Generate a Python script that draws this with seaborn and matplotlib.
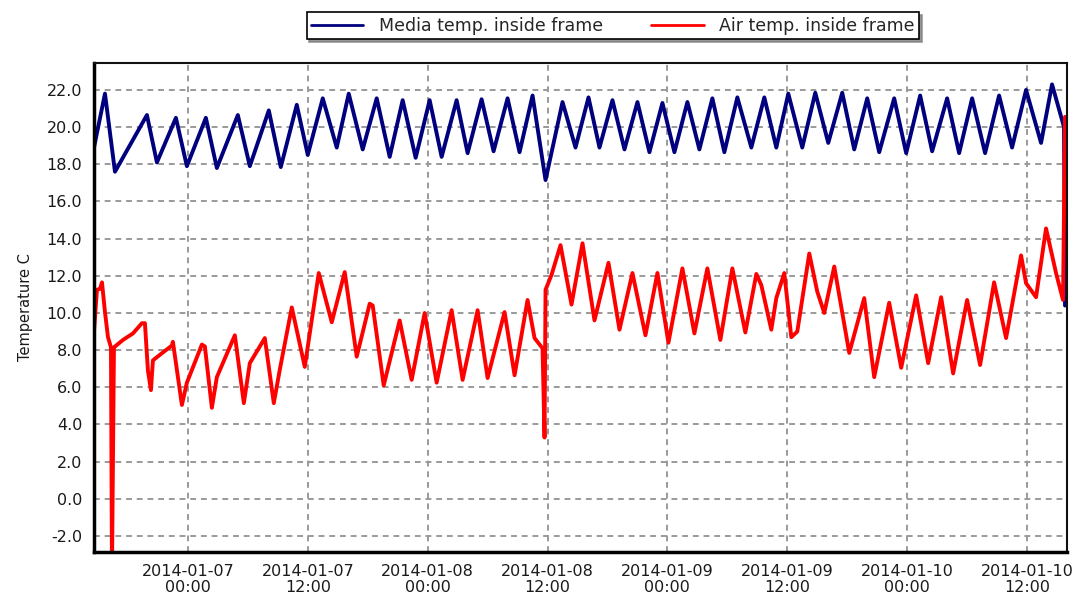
import matplotlib
matplotlib.use("Agg")
import matplotlib.pyplot as plt
import matplotlib.dates as mdates
from matplotlib.ticker import MultipleLocator, FormatStrFormatter
import numpy as np
import pandas as pd
import seaborn as sns

# Logger readings: hours after 2014-01-06 00:00 and temperature in deg C
media_hours = [14.6, 15.7, 16.7, 19.9, 20.9, 22.8, 23.9, 25.8, 26.9, 29.0, 30.2, 32.1,
               33.3, 34.9, 36.0, 37.5, 38.9, 40.1, 41.5, 42.9, 44.2, 45.5, 46.8, 48.2,
               49.4, 50.9, 52.0, 53.4, 54.6, 56.0, 57.2, 58.5, 59.8, 61.5, 62.8, 64.1,
               65.2, 66.5, 67.7, 69.0, 70.2, 71.5, 72.7, 74.0, 75.2, 76.5, 77.7, 79.0,
               80.4, 81.7, 82.9, 84.1, 85.5, 86.8, 88.1, 89.5, 90.7, 92.0, 93.2, 94.7,
               95.9, 97.3, 98.5, 100.0, 101.2, 102.5, 103.8, 105.2, 106.5, 107.9, 109.4,
               110.5, 111.7, 111.8]
media_temp = [18.9, 21.8, 17.6, 20.65, 18.1, 20.5, 17.9, 20.5, 17.8, 20.65, 17.9, 20.9,
              17.85, 21.2, 18.5, 21.55, 18.9, 21.8, 18.8, 21.55, 18.4, 21.45, 18.35, 21.45,
              18.4, 21.45, 18.6, 21.5, 18.7, 21.55, 18.65, 21.7, 17.15, 21.35, 18.9, 21.6,
              18.9, 21.45, 18.8, 21.35, 18.65, 21.3, 18.65, 21.35, 18.8, 21.55, 18.65, 21.6,
              18.9, 21.6, 18.9, 21.8, 18.9, 21.85, 19.15, 21.85, 18.8, 21.55, 18.65, 21.55,
              18.6, 21.7, 18.7, 21.55, 18.6, 21.55, 18.6, 21.7, 18.9, 22.0, 19.15,
              22.3, 20.0, 10.4]

air_hours = [14.6, 14.9, 15.2, 15.4, 15.7, 16.0, 16.3, 16.4, 16.6, 17.5, 18.5, 19.4,
             19.7, 20.0, 20.3, 20.5, 21.2, 22.4, 22.5, 23.4, 23.9, 25.4, 25.7, 26.4,
             26.9, 28.7, 29.6, 30.2, 31.7, 32.6, 33.2, 34.4, 35.7, 37.1, 38.4, 39.7,
             40.9, 42.2, 42.5, 43.6, 45.2, 46.4, 47.7, 48.9, 50.4, 51.5, 53.0, 54.0,
             55.7, 56.7, 58.0, 58.7, 59.5, 59.7, 59.8, 60.4, 61.3, 62.4, 63.5, 64.7,
             66.1, 67.2, 68.5, 69.8, 71.0, 72.1, 73.5, 74.7, 76.0, 77.3, 78.5, 79.8,
             80.9, 81.4, 82.4, 82.9, 83.7, 84.4, 85.0, 86.2, 87.0, 87.7, 88.7, 90.2,
             91.7, 92.7, 94.2, 95.4, 96.9, 98.1, 99.4, 100.6, 102.0, 103.3, 104.7, 105.9,
             107.4, 107.9, 108.9, 109.9, 110.9, 111.6, 111.8]
air_temp = [9.0, 11.25, 11.3, 11.65, 10.05, 8.7, 8.15, -4.0, 8.15, 8.55, 8.9, 9.45,
            9.45, 6.9, 5.85, 7.45, 7.75, 8.25, 8.45, 5.05, 6.25, 8.3, 8.2, 4.9,
            6.55, 8.8, 5.15, 7.3, 8.65, 5.15, 6.95, 10.3, 7.1, 12.15, 9.5, 12.2,
            7.65, 10.5, 10.4, 6.1, 9.6, 6.4, 10.0, 6.25, 10.15, 6.4, 10.15, 6.5,
            10.05, 6.65, 10.7, 8.65, 8.1, 3.3, 11.25, 12.05, 13.65, 10.45, 13.75, 9.6,
            12.7, 9.1, 12.15, 8.8, 12.15, 8.4, 12.4, 8.9, 12.4, 8.55, 12.4, 8.95,
            12.1, 11.5, 9.1, 10.8, 12.15, 8.7, 9.0, 13.2, 11.15, 10.0, 12.5, 7.85,
            10.8, 6.55, 10.55, 7.05, 10.95, 7.3, 10.85, 6.75, 10.7, 7.2, 11.65, 8.65,
            13.1, 11.6, 10.85, 14.55, 12.15, 10.7, 20.55]

series_names = ["Media temp. inside frame", "Air temp. inside frame"]
series_colors = ["#00007f", "#ff0000"]

origin = pd.Timestamp("2014-01-06 00:00")
media = pd.DataFrame({"time": origin + pd.to_timedelta(media_hours, unit="h"),
                      "temp": media_temp})
air = pd.DataFrame({"time": origin + pd.to_timedelta(air_hours, unit="h"),
                    "temp": air_temp})

sns.set_style("white")
plt.rcParams["font.family"] = ["DejaVu Sans"]

fig = plt.figure(figsize=(10.79, 6.0), dpi=100)
ax = fig.add_axes([0.0871, 0.080, 0.9018, 0.815])

line_kw = dict(linewidth=2.8, sort=False, estimator=None,
               solid_joinstyle="round", solid_capstyle="round")
sns.lineplot(data=media, x="time", y="temp", ax=ax, color=series_colors[0],
             label=series_names[0], **line_kw)
sns.lineplot(data=air, x="time", y="temp", ax=ax, color=series_colors[1],
             label=series_names[1], **line_kw)

ax.set_xlim(origin + pd.Timedelta(hours=14.6), origin + pd.Timedelta(hours=112.0))
ax.set_ylim(-2.86, 23.45)

ax.xaxis.set_major_locator(mdates.HourLocator(byhour=[0, 12]))
ax.xaxis.set_major_formatter(mdates.DateFormatter("%Y-%m-%d\n%H:%M"))
ax.xaxis.set_minor_locator(mdates.HourLocator(byhour=range(0, 24, 3)))
ax.yaxis.set_major_locator(MultipleLocator(2))
ax.yaxis.set_major_formatter(FormatStrFormatter("%.1f"))
ax.yaxis.set_minor_locator(MultipleLocator(0.5))

ax.grid(True, which="major", color="#9a9a9a", linestyle=(0, (3, 2.5)), linewidth=1.4)
ax.tick_params(axis="both", which="major", direction="out", length=5, width=1,
               color="#333333", labelsize=11.5, labelcolor="#1a1a1a")
ax.tick_params(axis="both", which="minor", direction="out", length=3, width=1,
               color="#555555")
ax.tick_params(axis="x", pad=4)
for lbl in ax.get_xticklabels():
    lbl.set_horizontalalignment("center")
    lbl.set_multialignment("center")
    lbl.set_linespacing(1.05)

ax.set_xlabel("")
ax.set_ylabel("Temperature C", fontsize=10.5, color="#1a1a1a", labelpad=10)

for side in ["top", "right"]:
    ax.spines[side].set_linewidth(1.5)
    ax.spines[side].set_color("#111111")
for side in ["left", "bottom"]:
    ax.spines[side].set_linewidth(2.5)
    ax.spines[side].set_color("#000000")

handles, labels = ax.get_legend_handles_labels()
ax.get_legend().remove()
leg = fig.legend(handles, labels, loc="center", bbox_to_anchor=(0.568, 0.957), ncol=2,
                 frameon=True, fancybox=False, shadow={"color": "#7f7f7f", "alpha": 0.8},
                 edgecolor="#000000", fontsize=12.5, handlelength=3.0,
                 handletextpad=0.9, columnspacing=2.8, borderpad=0.25,
                 borderaxespad=0.2)
leg.get_frame().set_linewidth(1.2)
for line in leg.get_lines():
    line.set_linewidth(2.0)

fig.savefig("out.png", dpi=100)
